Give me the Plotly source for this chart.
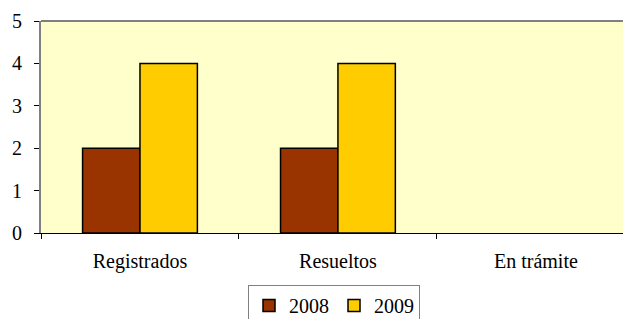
import plotly.graph_objects as go

categories = ["Registrados", "Resueltos", "En trámite"]
values_2008 = [2, 2, 0]
values_2009 = [4, 4, 0]
series_names = ["2008", "2009"]

xpos = list(range(len(categories)))
font_family = "Times New Roman, Liberation Serif, serif"


def outline_widths(vals):
    return [1.5 if v else 0 for v in vals]


fig = go.Figure()
fig.add_trace(go.Bar(x=xpos, y=values_2008, name=series_names[0],
                     marker=dict(color="#993300",
                                 line=dict(color="black", width=outline_widths(values_2008)))))
fig.add_trace(go.Bar(x=xpos, y=values_2009, name=series_names[1],
                     marker=dict(color="#FFCC00",
                                 line=dict(color="black", width=outline_widths(values_2009)))))

fig.update_layout(
    width=623, height=319,
    margin=dict(l=41, r=0, t=21, b=86, autoexpand=False),
    paper_bgcolor="white",
    plot_bgcolor="#FFFFCC",
    barmode="group",
    bargap=0.42,
    bargroupgap=0,
    font=dict(family=font_family, size=20, color="black"),
    showlegend=True,
    legend=dict(orientation="h", xref="container", yref="container",
                x=248 / 623, xanchor="left", y=(319 - 285) / 319, yanchor="top",
                bordercolor="#808080", borderwidth=1, font=dict(size=20, family=font_family),
                itemwidth=30, tracegroupgap=0),
    xaxis=dict(range=[-0.5, 2.44], tickmode="array", tickvals=xpos, ticktext=categories,
               ticks="", showgrid=False, zeroline=False, automargin=False,
               showline=True, linecolor="black", linewidth=1,
               tickfont=dict(family=font_family, size=20),
               minor=dict(ticks="outside", tick0=0.5, dtick=1, ticklen=5,
                          tickcolor="black", showgrid=False),
               ticklabelstandoff=10),
    yaxis=dict(range=[0, 5], dtick=1, ticks="outside", ticklen=5, tickcolor="black",
               tickfont=dict(family=font_family, size=20),
               showgrid=False, zeroline=False, showline=True, linecolor="#808080",
               linewidth=2, ticklabelstandoff=8, automargin=False),
    shapes=[dict(type="line", xref="paper", yref="paper", x0=0, x1=1, y0=1, y1=1,
                 line=dict(color="#808080", width=2))],
)

fig.write_html("out.html", config={"displayModeBar": False},
               post_script="document.body.style.margin='0';")
